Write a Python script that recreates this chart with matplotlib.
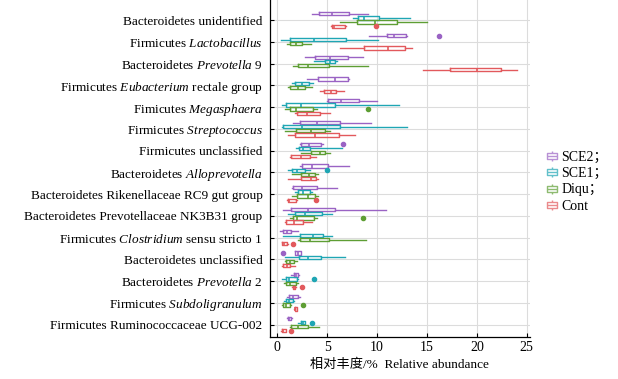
import matplotlib
matplotlib.use("Agg")
import matplotlib.pyplot as plt
from matplotlib.path import Path
from matplotlib.lines import Line2D
from matplotlib.font_manager import FontProperties

plt.rcParams['font.family'] = ['Liberation Serif', 'Noto Sans CJK SC']
plt.rcParams['mathtext.fontset'] = 'custom'
plt.rcParams['mathtext.rm'] = 'Liberation Serif'
plt.rcParams['mathtext.it'] = 'Liberation Serif:italic'

taxa = [
    'Bacteroidetes unidentified',
    r'Firmicutes $\it{Lactobacillus}$',
    r'Bacteroidetes $\it{Prevotella}$ 9',
    r'Firmicutes $\it{Eubacterium}$ rectale group',
    r'Fimicutes $\it{Megasphaera}$',
    r'Firmicutes $\it{Streptococcus}$',
    'Firmicutes unclassified',
    r'Bacteroidetes $\it{Alloprevotella}$',
    'Bacteroidetes Rikenellaceae RC9 gut group',
    'Bacteroidetes Prevotellaceae NK3B31 group',
    r'Firmicutes $\it{Clostridium}$ sensu stricto 1',
    'Bacteroidetes unclassified',
    r'Bacteroidetes $\it{Prevotella}$ 2',
    r'Firmicutes $\it{Subdoligranulum}$',
    'Firmicutes Ruminococcaceae UCG-002',
]

groups = ['SCE2；', 'SCE1；', 'Diqu；', 'Cont']
colors = ['#9a63c4', '#1fa6b4', '#5e9e34', '#e2595c']

# (whisker low, Q1, median, Q3, whisker high) per taxon
sce2 = [
    (3.5, 4.2, 5.5, 7.2, 9.1),
    (9.2, 11.0, 11.7, 12.9, 13.0),
    (2.8, 3.8, 5.3, 7.1, 8.6),
    (3.0, 4.1, 5.8, 7.1, 7.2),
    (5.0, 5.1, 6.4, 8.2, 10.0),
    (1.6, 2.3, 4.0, 6.3, 9.4),
    (2.3, 2.4, 3.2, 4.4, 4.6),
    (2.3, 2.5, 3.5, 5.1, 7.2),
    (1.5, 1.6, 2.5, 4.0, 6.0),
    (0.6, 1.4, 3.1, 5.8, 10.9),
    (0.3, 0.6, 1.0, 1.4, 2.1),
    (1.8, 1.8, 2.1, 2.4, 2.4),
    (1.4, 1.7, 1.9, 2.1, 2.2),
    (1.0, 1.2, 1.6, 2.1, 2.3),
    (1.0, 1.1, 1.2, 1.4, 1.5),
]
sce1 = [
    (7.6, 8.1, 8.7, 10.2, 13.3),
    (0.4, 1.3, 3.7, 6.9, 10.1),
    (3.7, 4.8, 5.3, 5.8, 6.0),
    (1.5, 1.8, 2.5, 3.2, 3.6),
    (0.5, 0.9, 2.4, 5.8, 12.2),
    (0.5, 0.6, 2.5, 6.3, 13.0),
    (1.9, 2.2, 2.6, 3.3, 6.5),
    (1.1, 1.5, 2.0, 2.8, 3.3),
    (1.8, 2.1, 2.6, 3.3, 3.5),
    (1.1, 1.8, 2.8, 4.5, 5.5),
    (0.6, 2.3, 3.6, 4.6, 5.5),
    (0.8, 2.2, 3.1, 4.4, 6.8),
    (0.5, 0.9, 1.2, 2.0, 2.1),
    (0.7, 0.9, 1.2, 1.6, 1.7),
    (2.1, 2.4, 2.6, 2.8, 2.8),
]
diqu = [
    (6.3, 8.0, 9.8, 12.0, 15.0),
    (1.0, 1.3, 1.9, 2.5, 3.4),
    (1.6, 2.1, 3.1, 5.2, 9.1),
    (1.1, 1.3, 2.1, 2.8, 3.5),
    (0.8, 1.3, 1.9, 3.6, 4.0),
    (0.8, 1.9, 3.4, 4.8, 5.3),
    (2.4, 3.4, 4.3, 4.8, 5.3),
    (1.5, 2.4, 3.2, 3.8, 4.1),
    (1.5, 2.0, 3.1, 3.8, 4.1),
    (1.3, 1.6, 2.0, 3.7, 4.0),
    (2.1, 2.3, 3.3, 5.2, 8.9),
    (0.8, 0.9, 1.3, 1.7, 2.0),
    (0.7, 0.9, 1.3, 1.9, 2.1),
    (0.5, 0.6, 0.9, 1.3, 1.4),
    (1.3, 1.4, 2.1, 3.1, 4.2),
]
cont = [
    (5.4, 5.5, 5.7, 6.8, 6.9),
    (6.3, 8.7, 11.1, 12.8, 13.5),
    (14.6, 17.3, 20.0, 22.4, 24.0),
    (4.3, 4.7, 5.4, 5.9, 6.7),
    (1.8, 2.0, 3.0, 4.3, 5.3),
    (1.1, 1.8, 3.8, 6.2, 7.8),
    (1.3, 1.4, 2.4, 3.3, 3.9),
    (1.1, 2.4, 3.4, 3.9, 4.1),
    (1.0, 1.1, 1.2, 1.9, 2.0),
    (0.8, 0.9, 1.7, 2.6, 3.5),
    (0.5, 0.5, 0.7, 1.0, 1.1),
    (0.5, 0.6, 1.0, 1.3, 1.8),
    (1.5, 1.6, 1.7, 1.8, 1.9),
    (1.7, 1.75, 1.8, 1.95, 2.0),
    (0.4, 0.5, 0.6, 0.9, 0.9),
]

# outliers: taxon index -> values
sce2_out = {1: [16.2], 6: [6.6], 11: [0.6]}
sce1_out = {7: [5.0], 12: [3.7], 14: [3.5]}
diqu_out = {4: [9.1], 9: [8.6], 13: [2.6]}
cont_out = {0: [9.9], 8: [3.9], 10: [1.6], 12: [2.5], 14: [1.4]}

all_stats = [sce2, sce1, diqu, cont]
all_out = [sce2_out, sce1_out, diqu_out, cont_out]
offsets = [-0.285, -0.095, 0.095, 0.285]

fig = plt.figure(figsize=(6.18, 3.79), dpi=100)
ax = fig.add_axes([269.5 / 618, 1 - 337 / 379, (530 - 269.5) / 618, 337 / 379])

for g in range(4):
    c = colors[g]
    stats = []
    for i, (lo, q1, med, q3, hi) in enumerate(all_stats[g]):
        stats.append(dict(whislo=lo, q1=q1, med=med, q3=q3, whishi=hi,
                          fliers=all_out[g].get(i, [])))
    pos = [i + offsets[g] for i in range(len(taxa))]
    ax.bxp(stats, positions=pos, widths=0.15, orientation='horizontal',
           showcaps=False, patch_artist=False, manage_ticks=False,
           boxprops=dict(color=c, linewidth=1.0),
           medianprops=dict(color=c, linewidth=1.2),
           whiskerprops=dict(color=c, linewidth=1.0),
           flierprops=dict(marker='o', markerfacecolor=c, markeredgecolor=c,
                           markersize=3))

ax.set_ylim(14.57, -0.92)
ax.set_xlim(-0.79, 25.33)
ax.set_yticks(range(len(taxa)))
ax.set_yticklabels(taxa, fontsize=9.5)
ax.set_xticks([0, 5, 10, 15, 20, 25])
ax.tick_params(axis='x', labelsize=10, direction='in', length=3, pad=3)
ax.tick_params(axis='y', direction='in', length=3, pad=5)
ax.grid(True, color='#dcdcdc', linewidth=0.8)
ax.set_axisbelow(True)
for s in ['top', 'right']:
    ax.spines[s].set_visible(False)
ax.spines['left'].set_linewidth(0.9)
ax.spines['bottom'].set_linewidth(0.9)
ax.set_xlabel('相对丰度/%  Relative abundance', fontsize=9.5, labelpad=3)

# boxplot glyph for the legend
box_glyph = Path(
    [(-1, -0.55), (1, -0.55), (1, 0.55), (-1, 0.55), (-1, -0.55),
     (-1, 0), (1, 0), (0, 0.55), (0, 1), (0, -0.55), (0, -1)],
    [Path.MOVETO, Path.LINETO, Path.LINETO, Path.LINETO, Path.CLOSEPOLY,
     Path.MOVETO, Path.LINETO, Path.MOVETO, Path.LINETO, Path.MOVETO, Path.LINETO])
handles = [Line2D([], [], linestyle='none', marker=box_glyph, markersize=7,
                  markerfacecolor='none', markeredgecolor=c, markeredgewidth=1.0,
                  alpha=0.7)
           for c in colors]
fig.legend(handles, groups, loc='upper left', bbox_to_anchor=(541 / 618, 1 - 145 / 379),
           frameon=False, handlelength=0.8, handletextpad=0.25, labelspacing=0.25,
           borderaxespad=0, prop=FontProperties(family=['Liberation Serif', 'Noto Sans CJK SC'], size=10))

fig.savefig('out.png', dpi=100)
